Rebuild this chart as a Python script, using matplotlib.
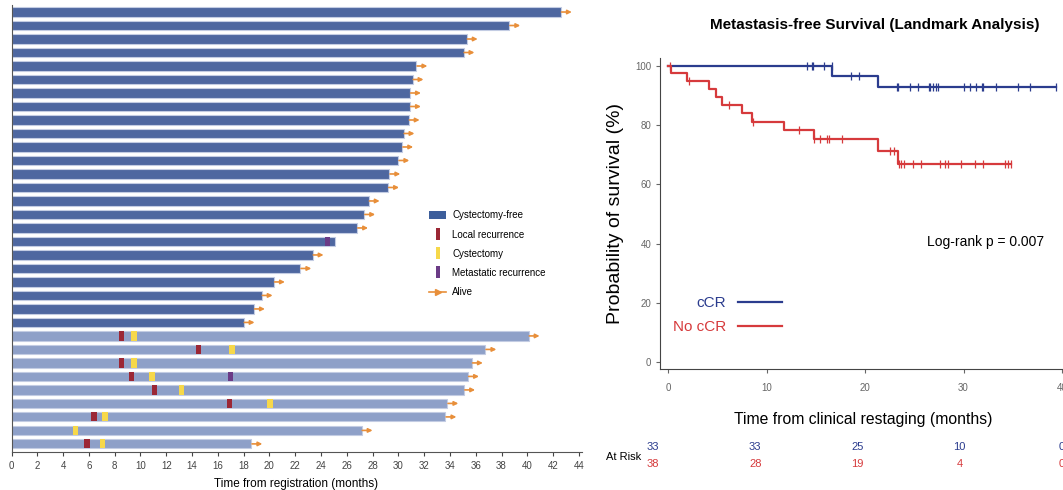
import numpy as np
import matplotlib
matplotlib.use("Agg")
import matplotlib.pyplot as plt
from matplotlib.patches import Patch
from matplotlib.lines import Line2D

plt.rcParams["font.family"] = ["Liberation Sans", "DejaVu Sans"]

# ---- swimmer plot data (months from registration) ----
dark_ends = [42.6, 38.6, 35.3, 35.05, 31.4, 31.1, 30.9, 30.9, 30.8, 30.4, 30.3, 30.0,
             29.3, 29.2, 27.7, 27.35, 26.8, 25.1, 23.35, 22.4, 20.35, 19.4, 18.8, 18.0]
light_ends = [40.1, 36.75, 35.7, 35.4, 35.1, 33.8, 33.65, 27.15, 18.6]
light_local = [8.55, 14.5, 8.55, 9.3, 11.1, 16.9, 6.4, None, 5.85]
light_cyst = [9.5, 17.1, 9.5, 10.9, 13.2, 20.05, 7.25, 4.95, 7.05]
metastatic = [(17, 24.5), (27, 16.95)]   # (row, month)
not_alive_rows = [17]

# ---- KM data ----
ccr_t = [0, 16.65, 21.3, 39.35]
ccr_s = [100, 96.5, 92.8, 92.8]
ccr_cens = [14.15, 14.6, 14.75, 15.8, 16.6, 18.55, 19.35, 23.2, 23.3, 24.6, 25.4, 26.5,
            26.6, 26.95, 27.2, 27.45, 30.0, 30.65, 31.3, 31.85, 32.0, 33.25, 35.5, 36.75, 39.35]
nocr_t = [0, 0.3, 1.9, 4.15, 4.85, 5.5, 7.55, 8.5, 11.8, 14.8, 21.3, 23.3, 34.8]
nocr_s = [100, 97.6, 95.0, 92.3, 89.5, 86.8, 84.0, 81.1, 78.3, 75.2, 71.4, 66.9, 66.9]
nocr_cens = [0.2, 2.1, 6.2, 8.6, 13.25, 14.85, 15.45, 16.1, 16.3, 17.7, 22.5, 22.9, 23.45,
             23.7, 24.0, 24.9, 25.65, 27.6, 28.1, 28.4, 29.7, 31.2, 31.95, 34.2, 34.55, 34.8]
risk_times = [0, 10, 20, 30, 40]
risk_ccr = [33, 33, 25, 10, 0]
risk_nocr = [38, 28, 19, 4, 0]

DARK = "#4E67A0"
LIGHT = "#8EA0C8"
EDGE = "#C3CCE3"
RED = "#9B2735"
YELLOW = "#F6D84A"
PURPLE = "#6B3B86"
ORANGE = "#E88F3A"
BLUE_KM = "#2B3C8E"
RED_KM = "#D63A3C"

fig = plt.figure(figsize=(10.63, 4.9), dpi=100)

# ================= left: swimmer plot =================
ax = fig.add_axes([11.5 / 1063, 1 - 452 / 490, 570 / 1063, 447 / 490])
ends = dark_ends + light_ends
colors = [DARK] * len(dark_ends) + [LIGHT] * len(light_ends)
rows = np.arange(len(ends))
ax.barh(rows, ends, height=0.68, color=colors, edgecolor=EDGE, linewidth=0.8, zorder=2)

nd = len(dark_ends)
for i, (tl, tc) in enumerate(zip(light_local, light_cyst)):
    r = nd + i
    if tl is not None:
        ax.barh(r, 0.4, left=tl - 0.2, height=0.68, color=RED, zorder=3)
    if tc is not None:
        ax.barh(r, 0.4, left=tc - 0.2, height=0.68, color=YELLOW, zorder=3)
for r, t in metastatic:
    ax.barh(r, 0.4, left=t - 0.2, height=0.68, color=PURPLE, zorder=3)

for r, e in zip(rows, ends):
    if r in not_alive_rows:
        continue
    ax.annotate("", xy=(e + 0.85, r), xytext=(e + 0.05, r),
                arrowprops=dict(arrowstyle="-|>", color=ORANGE, lw=1.2,
                                mutation_scale=6, shrinkA=0, shrinkB=0), zorder=4)

ax.set_xlim(0, 44.2)
ax.set_ylim(32.6, -0.52)
ax.set_xticks(np.arange(0, 45, 2))
ax.set_yticks([])
ax.tick_params(axis="x", labelsize=7, colors="#444444", length=3, width=0.8)
for s in ["top", "right"]:
    ax.spines[s].set_visible(False)
ax.spines["left"].set_color("#555555")
ax.spines["bottom"].set_color("#555555")
ax.set_xlabel("Time from registration (months)", fontsize=8.5, labelpad=5)


def vrect(color):
    return Line2D([], [], linestyle="none", marker=[(-0.35, -1), (0.35, -1), (0.35, 1), (-0.35, 1)],
                  markersize=9, color=color, markeredgewidth=0)


handles = [Patch(facecolor="#3D5E9B", edgecolor="none"),
           vrect(RED), vrect(YELLOW), vrect(PURPLE),
           Line2D([], [], color=ORANGE, marker=">", markersize=4, lw=1.2)]
labels = ["Cystectomy-free", "Local recurrence", "Cystectomy", "Metastatic recurrence", "Alive"]
ax.legend(handles, labels, loc="upper left", bbox_to_anchor=(0.717, 0.56), frameon=False,
          fontsize=7, handlelength=1.8, handleheight=0.9, labelspacing=0.95, handletextpad=0.6)

# ================= right: KM plot =================
x0 = 668
pxu = 9.85
xl, xr = -0.8, 40.5
bx = fig.add_axes([(x0 + xl * pxu) / 1063, 1 - 369 / 490, (xr - xl) * pxu / 1063, 311 / 490])
bx.step(ccr_t, ccr_s, where="post", color=BLUE_KM, lw=1.6)
bx.step(nocr_t, nocr_s, where="post", color=RED_KM, lw=1.6)


def level(tt, ss, t):
    idx = np.searchsorted(tt, t, side="right") - 1
    return np.array(ss)[idx]


bx.plot(ccr_cens, level(ccr_t, ccr_s, ccr_cens), linestyle="none", marker="|",
        markersize=6, markeredgewidth=0.9, color=BLUE_KM)
bx.plot(nocr_cens, level(nocr_t, nocr_s, nocr_cens), linestyle="none", marker="|",
        markersize=6, markeredgewidth=0.9, color=RED_KM)

bx.set_xlim(xl, xr)
bx.set_ylim(-2.4, 102.7)
bx.set_xticks(risk_times)
bx.set_yticks([0, 20, 40, 60, 80, 100])
bx.tick_params(labelsize=7, colors="#666666", length=3, width=0.8)
bx.tick_params(axis="x", pad=7)
for s in ["top", "right"]:
    bx.spines[s].set_visible(False)
bx.spines["left"].set_color("#444444")
bx.spines["bottom"].set_color("#444444")
bx.set_ylabel("Probability of survival (%)", fontsize=14, labelpad=8)
bx.set_xlabel("Time from clinical restaging (months)", fontsize=11.3, labelpad=14)
fig.text(875 / 1063, 1 - 25 / 490, "Metastasis-free Survival (Landmark Analysis)",
         fontsize=11, fontweight="bold", ha="center", va="center")
bx.text(26.3, 40.5, "Log-rank p = 0.007", fontsize=10, ha="left", va="center")

# legend drawn inside plot
bx.plot([7.1, 11.6], [20.3, 20.3], color=BLUE_KM, lw=1.6)
bx.plot([7.1, 11.6], [12.2, 12.2], color=RED_KM, lw=1.6)
bx.text(5.9, 20.0, "cCR", color=BLUE_KM, fontsize=11, ha="right", va="center")
bx.text(5.9, 11.8, "No cCR", color=RED_KM, fontsize=11, ha="right", va="center")

# at-risk table
fig.text(606 / 1063, 1 - 457 / 490, "At Risk", fontsize=8, ha="left", va="center")
for t, a, b in zip(risk_times, risk_ccr, risk_nocr):
    xp = (x0 - 15 + t * pxu * 1.038) / 1063
    fig.text(xp, 1 - 447 / 490, str(a), color=BLUE_KM, fontsize=8, ha="center", va="center")
    fig.text(xp, 1 - 464 / 490, str(b), color=RED_KM, fontsize=8, ha="center", va="center")

fig.savefig("out.png", dpi=100)
